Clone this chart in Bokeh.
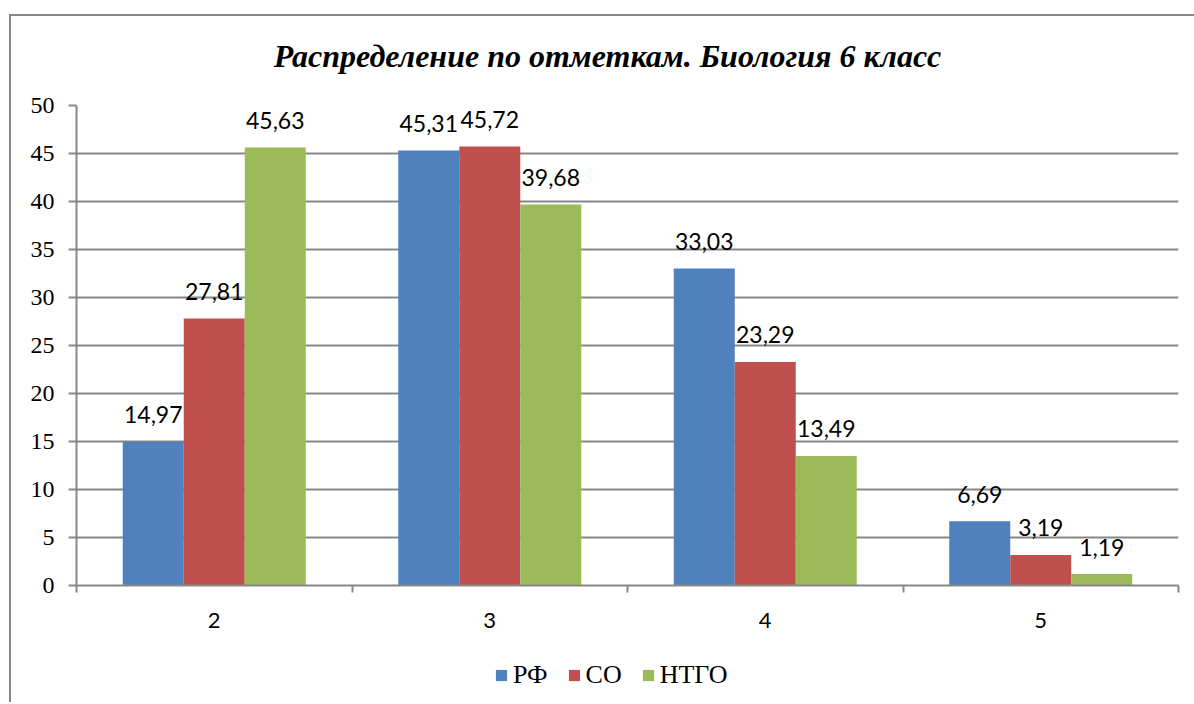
from bokeh.plotting import figure
from bokeh.layouts import column
from bokeh.models import Range1d, FixedTicker, Legend, LegendItem, ColumnDataSource, Label
from bokeh.core.properties import value
from bokeh.embed import file_html
from bokeh.resources import INLINE

title_text = "Распределение по отметкам. Биология 6 класс"
categories = ["2", "3", "4", "5"]
series_names = ["РФ", "СО", "НТГО"]
rf = [14.97, 45.31, 33.03, 6.69]
so = [27.81, 45.72, 23.29, 3.19]
ntgo = [45.63, 39.68, 13.49, 1.19]
colors = ["#4F81BD", "#C0504D", "#9BBB59"]
y_ticks = [0, 5, 10, 15, 20, 25, 30, 35, 40, 45, 50]

GRID = "#878787"
BAR_W = 0.2214


def blank_strip(h):
    f = figure(width=1183, height=h, output_backend="svg", toolbar_location=None,
               x_range=Range1d(0, len(categories)), y_range=Range1d(0, 50), min_border=0,
               x_axis_location=None, y_axis_location=None, title=None)
    f.grid.visible = False
    f.outline_line_color = None
    f.border_fill_color = "white"
    f.background_fill_color = "white"
    return f


# title strip
p0 = blank_strip(67)
p0.add_layout(Label(x=531, y=28, x_units="screen", y_units="screen", text=title_text,
                    text_align="center", text_baseline="middle",
                    text_font="Liberation Serif", text_font_style="bold italic",
                    text_font_size="32px", text_color="black"))

# main chart
p = figure(width=1183, height=567, output_backend="svg", toolbar_location=None,
           x_range=Range1d(0, len(categories)), y_range=Range1d(0, 50), title=None,
           min_border_left=65, min_border_right=16, min_border_top=22, min_border_bottom=65)
p.outline_line_color = None
p.background_fill_color = "white"
p.border_fill_color = "white"

p.xgrid.visible = False
p.ygrid.ticker = FixedTicker(ticks=y_ticks)
p.ygrid.grid_line_color = GRID
p.ygrid.grid_line_width = 2

xa = p.xaxis[0]
xa.ticker = FixedTicker(ticks=[i + 0.5 for i in range(len(categories))],
                        minor_ticks=list(range(len(categories) + 1)))
xa.major_label_overrides = {i + 0.5: c for i, c in enumerate(categories)}
xa.major_tick_in = 0
xa.major_tick_out = 0
xa.minor_tick_in = 0
xa.minor_tick_out = 7
xa.minor_tick_line_color = GRID
xa.minor_tick_line_width = 2
xa.axis_line_color = GRID
xa.axis_line_width = 2
xa.major_label_text_font = "Lato"
xa.major_label_text_font_size = "22px"
xa.major_label_text_color = "black"
xa.major_label_standoff = 20

ya = p.yaxis[0]
ya.ticker = FixedTicker(ticks=y_ticks)
ya.major_tick_in = 0
ya.major_tick_out = 8
ya.minor_tick_line_color = None
ya.major_tick_line_color = GRID
ya.major_tick_line_width = 2
ya.axis_line_color = GRID
ya.axis_line_width = 2
ya.major_label_text_font = "Liberation Serif"
ya.major_label_text_font_size = "24px"
ya.major_label_text_color = "black"
ya.major_label_standoff = 14

offsets = [-BAR_W, 0.0, BAR_W]
sources = []
for vals, off, col in zip([rf, so, ntgo], offsets, colors):
    xs = [i + 0.5 + off for i in range(len(categories))]
    src = ColumnDataSource(dict(x=xs, top=vals,
                                lab=[f"{v:.2f}".replace(".", ",") for v in vals]))
    sources.append(src)
    p.vbar(x="x", top="top", width=BAR_W, source=src, fill_color=col, line_color=None)
    p.text(x="x", y="top", text="lab", source=src, text_align="center",
           text_baseline="alphabetic", y_offset=-27,
           text_font=value("Lato"), text_font_size="23px", text_color="black")

# legend strip
p2 = blank_strip(52)
leg_renderers = []
for src, col in zip(sources, colors):
    r = p2.vbar(x="x", top="top", width=BAR_W, source=src, fill_color=col, line_color=None)
    r.visible = False
    leg_renderers.append(r)
legend = Legend(items=[LegendItem(label=n, renderers=[r]) for n, r in zip(series_names, leg_renderers)],
                orientation="horizontal", location=(418, 12),
                glyph_width=14, glyph_height=14, label_standoff=5, spacing=19,
                padding=0, margin=0, border_line_color=None, background_fill_alpha=0,
                inactive_fill_alpha=0,
                label_text_font="Liberation Serif", label_text_font_size="26px",
                label_text_color="black")
p2.add_layout(legend, "center")

layout = column(p0, p, p2, spacing=0)
layout.margin = (14, 0, 0, 9)
layout.styles = {"border-left": f"2px solid {GRID}", "border-top": f"2px solid {GRID}"}

open("out.html", "w").write(file_html(layout, INLINE))
